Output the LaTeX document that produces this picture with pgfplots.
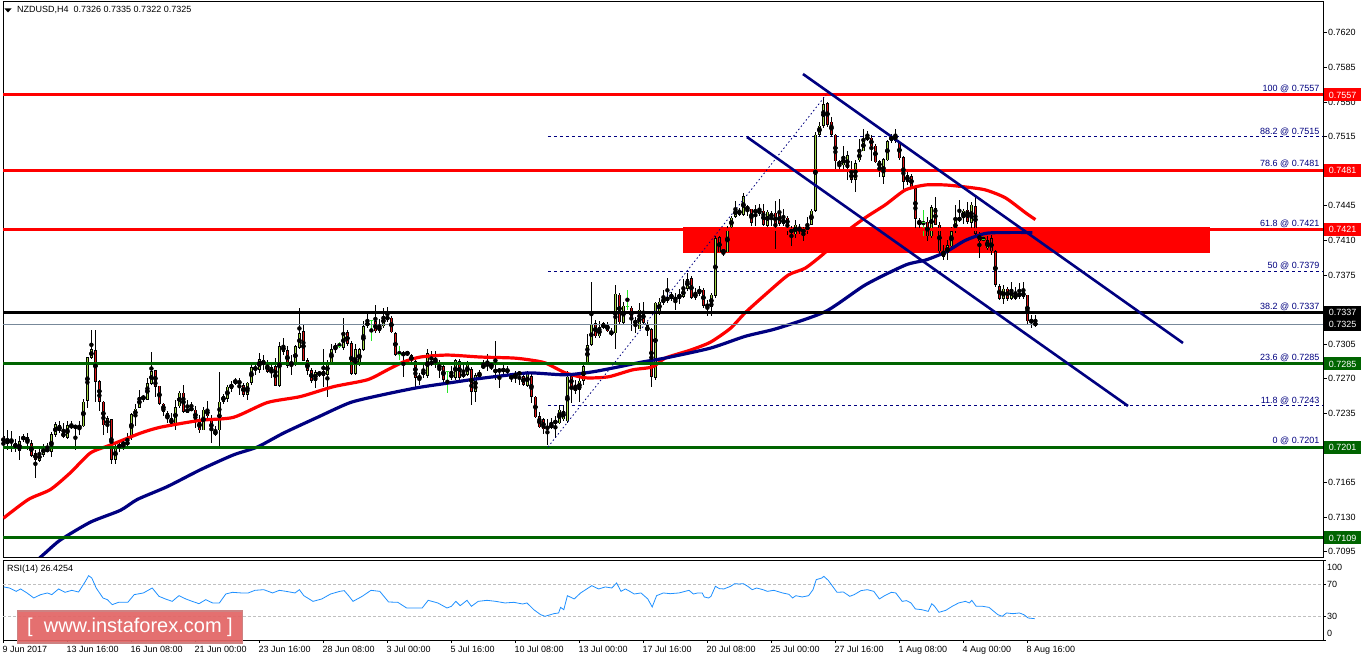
\documentclass[border=0pt]{standalone}
\usepackage{fontspec}
\setmainfont{Liberation Sans}
\usepackage{pgfplots}
\usepackage{pgfplotstable}
\pgfplotsset{compat=1.18}

\definecolor{mtnavy}{RGB}{0,0,128}
\definecolor{mtgreen}{RGB}{0,100,0}
\definecolor{bull}{RGB}{160,215,70}
\definecolor{bear}{RGB}{220,20,20}
\definecolor{doji}{RGB}{40,230,40}
\definecolor{rsiblue}{RGB}{30,144,255}
\definecolor{bidgray}{RGB}{119,136,153}
\definecolor{wmfill}{RGB}{226,100,100}
\definecolor{wmdraw}{RGB}{205,130,130}

% NZDUSD H4 candles: bar, open, high, low, close
\pgfplotstableread{
i o h l c
0 0.7212 0.7218 0.7191 0.7205
1 0.7204 0.7218 0.7198 0.7208
2 0.7207 0.7217 0.7196 0.7208
3 0.7205 0.7209 0.7196 0.7200
4 0.7197 0.7212 0.7188 0.7207
5 0.7208 0.7214 0.7206 0.7212
6 0.7211 0.7215 0.7198 0.7205
7 0.7205 0.7208 0.7191 0.7192
8 0.7195 0.7198 0.7170 0.7188
9 0.7187 0.7202 0.7186 0.7195
10 0.7193 0.7204 0.7191 0.7201
11 0.7200 0.7205 0.7196 0.7196
12 0.7196 0.7216 0.7191 0.7214
13 0.7213 0.7226 0.7211 0.7224
14 0.7223 0.7227 0.7215 0.7217
15 0.7216 0.7225 0.7210 0.7211
16 0.7210 0.7227 0.7209 0.7223
17 0.7224 0.7227 0.7219 0.7220
18 0.7222 0.7223 0.7198 0.7221
19 0.7220 0.7227 0.7213 0.7223
20 0.7222 0.7250 0.7221 0.7247
21 0.7248 0.7292 0.7241 0.7292
22 0.7291 0.7319 0.7290 0.7300
23 0.7299 0.7319 0.7247 0.7267
24 0.7268 0.7269 0.7237 0.7247
25 0.7247 0.7248 0.7213 0.7223
26 0.7223 0.7232 0.7215 0.7230
27 0.7229 0.7229 0.7184 0.7188
28 0.7188 0.7206 0.7184 0.7200
29 0.7200 0.7208 0.7196 0.7204
30 0.7204 0.7207 0.7198 0.7205
31 0.7203 0.7215 0.7201 0.7207
32 0.7212 0.7235 0.7208 0.7234
33 0.7232 0.7244 0.7222 0.7240
34 0.7241 0.7259 0.7240 0.7252
35 0.7253 0.7254 0.7247 0.7249
36 0.7249 0.7271 0.7249 0.7266
37 0.7265 0.7297 0.7264 0.7278
38 0.7279 0.7279 0.7252 0.7262
39 0.7263 0.7263 0.7244 0.7245
40 0.7245 0.7246 0.7232 0.7237
41 0.7235 0.7237 0.7225 0.7230
42 0.7230 0.7235 0.7221 0.7224
43 0.7225 0.7249 0.7218 0.7241
44 0.7242 0.7258 0.7240 0.7256
45 0.7256 0.7264 0.7235 0.7237
46 0.7236 0.7249 0.7235 0.7240
47 0.7241 0.7247 0.7238 0.7238
48 0.7239 0.7242 0.7220 0.7228
49 0.7228 0.7233 0.7215 0.7218
50 0.7218 0.7241 0.7218 0.7239
51 0.7240 0.7248 0.7228 0.7232
52 0.7228 0.7233 0.7205 0.7218
53 0.7213 0.7222 0.7212 0.7218
54 0.7218 0.7277 0.7201 0.7247
55 0.7247 0.7255 0.7245 0.7253
56 0.7250 0.7264 0.7247 0.7262
57 0.7260 0.7268 0.7257 0.7265
58 0.7265 0.7271 0.7264 0.7269
59 0.7268 0.7271 0.7254 0.7265
60 0.7264 0.7266 0.7252 0.7254
61 0.7254 0.7267 0.7249 0.7266
62 0.7266 0.7287 0.7264 0.7282
63 0.7282 0.7287 0.7274 0.7279
64 0.7279 0.7296 0.7276 0.7290
65 0.7289 0.7294 0.7279 0.7284
66 0.7285 0.7289 0.7276 0.7277
67 0.7276 0.7284 0.7271 0.7282
68 0.7283 0.7291 0.7263 0.7263
69 0.7263 0.7307 0.7262 0.7303
70 0.7304 0.7311 0.7294 0.7297
71 0.7299 0.7303 0.7281 0.7283
72 0.7284 0.7294 0.7274 0.7287
73 0.7284 0.7304 0.7283 0.7303
74 0.7301 0.7342 0.7300 0.7316
75 0.7318 0.7325 0.7288 0.7288
76 0.7289 0.7291 0.7274 0.7278
77 0.7279 0.7281 0.7266 0.7268
78 0.7268 0.7279 0.7261 0.7277
79 0.7274 0.7278 0.7272 0.7277
80 0.7278 0.7300 0.7262 0.7273
81 0.7274 0.7289 0.7252 0.7287
82 0.7286 0.7305 0.7284 0.7300
83 0.7300 0.7306 0.7296 0.7304
84 0.7303 0.7307 0.7301 0.7303
85 0.7301 0.7332 0.7299 0.7316
86 0.7317 0.7319 0.7303 0.7305
87 0.7306 0.7308 0.7274 0.7275
88 0.7275 0.7305 0.7274 0.7300
89 0.7286 0.7301 0.7283 0.7300
90 0.7299 0.7328 0.7298 0.7323
91 0.7323 0.7336 0.7321 0.7328
92 0.7329 0.7330 0.7308 0.7329
93 0.7328 0.7345 0.7316 0.7318
94 0.7318 0.7330 0.7316 0.7324
95 0.7323 0.7342 0.7321 0.7334
96 0.7331 0.7343 0.7328 0.7332
97 0.7332 0.7334 0.7316 0.7317
98 0.7316 0.7317 0.7293 0.7294
99 0.7295 0.7303 0.7289 0.7295
100 0.7294 0.7298 0.7272 0.7296
101 0.7295 0.7298 0.7293 0.7297
102 0.7294 0.7295 0.7286 0.7288
103 0.7288 0.7289 0.7262 0.7271
104 0.7270 0.7276 0.7264 0.7273
105 0.7274 0.7286 0.7271 0.7278
106 0.7273 0.7300 0.7271 0.7296
107 0.7285 0.7298 0.7283 0.7287
108 0.7285 0.7298 0.7281 0.7291
109 0.7284 0.7289 0.7271 0.7281
110 0.7283 0.7284 0.7266 0.7269
111 0.7277 0.7278 0.7256 0.7277
112 0.7274 0.7283 0.7269 0.7272
113 0.7271 0.7290 0.7269 0.7289
114 0.7288 0.7290 0.7269 0.7271
115 0.7273 0.7284 0.7271 0.7275
116 0.7274 0.7288 0.7273 0.7285
117 0.7280 0.7282 0.7244 0.7257
118 0.7257 0.7276 0.7247 0.7274
119 0.7272 0.7279 0.7271 0.7276
120 0.7281 0.7289 0.7280 0.7284
121 0.7284 0.7295 0.7278 0.7285
122 0.7283 0.7285 0.7279 0.7284
123 0.7279 0.7308 0.7269 0.7277
124 0.7278 0.7281 0.7261 0.7279
125 0.7278 0.7284 0.7274 0.7280
126 0.7278 0.7283 0.7273 0.7279
127 0.7272 0.7276 0.7267 0.7271
128 0.7271 0.7278 0.7266 0.7276
129 0.7275 0.7278 0.7264 0.7276
130 0.7273 0.7274 0.7263 0.7264
131 0.7263 0.7278 0.7262 0.7276
132 0.7273 0.7276 0.7246 0.7252
133 0.7252 0.7253 0.7230 0.7231
134 0.7232 0.7237 0.7220 0.7221
135 0.7229 0.7230 0.7214 0.7219
136 0.7219 0.7229 0.7203 0.7222
137 0.7220 0.7230 0.7219 0.7225
138 0.7225 0.7232 0.7210 0.7228
139 0.7225 0.7244 0.7224 0.7239
140 0.7229 0.7244 0.7227 0.7238
141 0.7227 0.7278 0.7225 0.7272
142 0.7273 0.7276 0.7246 0.7262
143 0.7262 0.7269 0.7255 0.7258
144 0.7259 0.7276 0.7247 0.7268
145 0.7268 0.7286 0.7264 0.7283
146 0.7286 0.7315 0.7284 0.7304
147 0.7304 0.7368 0.7303 0.7325
148 0.7326 0.7330 0.7311 0.7313
149 0.7313 0.7328 0.7311 0.7322
150 0.7321 0.7328 0.7320 0.7326
151 0.7325 0.7328 0.7317 0.7318
152 0.7318 0.7321 0.7313 0.7315
153 0.7316 0.7365 0.7300 0.7356
154 0.7355 0.7357 0.7325 0.7327
155 0.7327 0.7348 0.7325 0.7344
156 0.7343 0.7360 0.7340 0.7343
157 0.7342 0.7344 0.7318 0.7330
158 0.7330 0.7333 0.7316 0.7325
159 0.7320 0.7347 0.7320 0.7340
160 0.7339 0.7348 0.7326 0.7327
161 0.7324 0.7328 0.7313 0.7318
162 0.7320 0.7321 0.7262 0.7272
163 0.7271 0.7348 0.7269 0.7347
164 0.7338 0.7352 0.7335 0.7348
165 0.7347 0.7360 0.7345 0.7351
166 0.7349 0.7372 0.7347 0.7353
167 0.7351 0.7358 0.7349 0.7356
168 0.7353 0.7357 0.7340 0.7349
169 0.7351 0.7361 0.7346 0.7356
170 0.7353 0.7371 0.7352 0.7361
171 0.7361 0.7377 0.7359 0.7371
172 0.7372 0.7374 0.7351 0.7352
173 0.7352 0.7362 0.7350 0.7357
174 0.7356 0.7364 0.7354 0.7361
175 0.7360 0.7362 0.7342 0.7344
176 0.7346 0.7350 0.7334 0.7342
177 0.7343 0.7357 0.7333 0.7355
178 0.7354 0.7414 0.7352 0.7412
179 0.7413 0.7414 0.7398 0.7398
180 0.7398 0.7401 0.7394 0.7400
181 0.7398 0.7425 0.7398 0.7423
182 0.7423 0.7435 0.7420 0.7433
183 0.7434 0.7450 0.7433 0.7442
184 0.7441 0.7443 0.7435 0.7436
185 0.7436 0.7458 0.7435 0.7455
186 0.7443 0.7446 0.7435 0.7442
187 0.7442 0.7442 0.7425 0.7428
188 0.7441 0.7446 0.7425 0.7438
189 0.7441 0.7447 0.7435 0.7437
190 0.7440 0.7447 0.7425 0.7426
191 0.7425 0.7441 0.7423 0.7439
192 0.7438 0.7440 0.7425 0.7432
193 0.7438 0.7450 0.7401 0.7425
194 0.7437 0.7452 0.7425 0.7427
195 0.7427 0.7442 0.7425 0.7432
196 0.7433 0.7435 0.7415 0.7425
197 0.7421 0.7425 0.7404 0.7418
198 0.7416 0.7431 0.7412 0.7426
199 0.7423 0.7427 0.7417 0.7419
200 0.7420 0.7424 0.7409 0.7419
201 0.7419 0.7434 0.7417 0.7426
202 0.7426 0.7442 0.7426 0.7440
203 0.7440 0.7520 0.7439 0.7517
204 0.7517 0.7530 0.7515 0.7526
205 0.7526 0.7555 0.7524 0.7548
206 0.7549 0.7550 0.7525 0.7527
207 0.7530 0.7535 0.7515 0.7517
208 0.7517 0.7518 0.7481 0.7490
209 0.7490 0.7491 0.7481 0.7486
210 0.7486 0.7506 0.7481 0.7495
211 0.7483 0.7500 0.7471 0.7496
212 0.7479 0.7490 0.7468 0.7471
213 0.7471 0.7491 0.7459 0.7488
214 0.7491 0.7512 0.7489 0.7500
215 0.7500 0.7523 0.7500 0.7512
216 0.7514 0.7521 0.7511 0.7513
217 0.7514 0.7517 0.7490 0.7505
218 0.7506 0.7508 0.7488 0.7489
219 0.7490 0.7491 0.7474 0.7484
220 0.7474 0.7493 0.7467 0.7492
221 0.7491 0.7511 0.7490 0.7510
222 0.7510 0.7518 0.7508 0.7516
223 0.7517 0.7523 0.7509 0.7511
224 0.7510 0.7511 0.7491 0.7493
225 0.7494 0.7495 0.7461 0.7469
226 0.7469 0.7481 0.7466 0.7476
227 0.7475 0.7477 0.7463 0.7464
228 0.7463 0.7464 0.7421 0.7432
229 0.7431 0.7433 0.7422 0.7426
230 0.7428 0.7441 0.7414 0.7428
231 0.7429 0.7434 0.7409 0.7414
232 0.7414 0.7446 0.7412 0.7444
233 0.7443 0.7454 0.7426 0.7426
234 0.7426 0.7429 0.7397 0.7399
235 0.7393 0.7405 0.7390 0.7399
236 0.7397 0.7410 0.7390 0.7405
237 0.7404 0.7424 0.7402 0.7419
238 0.7419 0.7446 0.7417 0.7431
239 0.7431 0.7451 0.7429 0.7432
240 0.7433 0.7442 0.7427 0.7440
241 0.7441 0.7449 0.7427 0.7429
242 0.7428 0.7449 0.7419 0.7446
243 0.7445 0.7454 0.7414 0.7417
244 0.7417 0.7419 0.7392 0.7409
245 0.7411 0.7414 0.7409 0.7411
246 0.7402 0.7414 0.7400 0.7410
247 0.7412 0.7415 0.7395 0.7399
248 0.7399 0.7400 0.7363 0.7365
249 0.7364 0.7366 0.7350 0.7351
250 0.7351 0.7365 0.7346 0.7361
251 0.7361 0.7363 0.7349 0.7351
252 0.7351 0.7368 0.7350 0.7361
253 0.7351 0.7363 0.7350 0.7356
254 0.7354 0.7367 0.7351 0.7356
255 0.7353 0.7368 0.7351 0.7358
256 0.7355 0.7355 0.7324 0.7328
257 0.7330 0.7335 0.7321 0.7327
258 0.7326 0.7335 0.7322 0.7325
}\candles

\begin{document}
\begin{tikzpicture}[x=1pt,y=1pt,font=\fontsize{9}{10}\selectfont]
\path[use as bounding box, fill=white] (0,0) rectangle (1362,661);

\begin{axis}[
    name=main,
    at={(3pt,104pt)}, anchor=south west,
    scale only axis, width=1320pt, height=556pt,
    xmin=-0.1, xmax=329.9,
    ymin=0.708977, ymax=0.765207,
    xtick=\empty,
    ytick={0.7095,0.7130,0.7165,0.7200,0.7235,0.7270,0.7305,0.7340,0.7375,0.7410,0.7445,0.7480,0.7515,0.7550,0.7585,0.7620},
    yticklabels={0.7095,0.7130,0.7165,,0.7235,0.7270,0.7305,,0.7375,0.7410,0.7445,,0.7515,0.7550,0.7585,0.7620},
    ytick pos=right, yticklabel pos=right,
    tick align=outside, major tick length=4pt,
    yticklabel style={anchor=west, inner sep=0pt, xshift=1pt},
    tick label style={font=\fontsize{9}{10}\selectfont},
    every tick/.style={black, line width=0.8pt},
    axis line style={black, line width=0.8pt},
    /pgf/number format/assume math mode=true,
]
% support / resistance zone
\fill[red] (axis cs:169.9,0.7397) rectangle (axis cs:301.65,0.7423);

% fibonacci dashed levels
\addplot[mtnavy, line width=0.8pt, dash pattern=on 3pt off 3pt] coordinates {(136.15,0.7515) (329.9,0.7515)};
\addplot[mtnavy, line width=0.8pt, dash pattern=on 3pt off 3pt] coordinates {(136.15,0.7379) (329.9,0.7379)};
\addplot[mtnavy, line width=0.8pt, dash pattern=on 3pt off 3pt] coordinates {(136.15,0.7243) (329.9,0.7243)};

% wicks
\addplot[only marks, mark=none,
    restrict expr to domain={abs(\thisrow{c}-\thisrow{o})}{0.000001:1},
    error bars/.cd, y dir=both, y explicit, error mark=none,
    error bar style={draw=black, line width=1pt, solid}]
    table[x=i, y expr={(\thisrow{h}+\thisrow{l})/2}, y error expr={(\thisrow{h}-\thisrow{l})/2}] {\candles};
% bull bodies
\addplot[only marks, mark=none,
    restrict expr to domain={\thisrow{c}-\thisrow{o}}{0.000001:1},
    error bars/.cd, y dir=both, y explicit, error mark=none,
    error bar style={draw=black, line width=3pt, line cap=butt, solid}]
    table[x=i, y expr={(\thisrow{o}+\thisrow{c})/2}, y error expr={max((\thisrow{c}-\thisrow{o})/2,0.00008)}] {\candles};
\addplot[only marks, mark=none,
    restrict expr to domain={\thisrow{c}-\thisrow{o}}{0.000001:1},
    error bars/.cd, y dir=both, y explicit, error mark=none,
    error bar style={draw=bull, line width=1.5pt, line cap=butt, solid}]
    table[x=i, y expr={(\thisrow{o}+\thisrow{c})/2}, y error expr={max((\thisrow{c}-\thisrow{o})/2-0.00007,0.00001)}] {\candles};
% bear bodies
\addplot[only marks, mark=none,
    restrict expr to domain={\thisrow{o}-\thisrow{c}}{0.000001:1},
    error bars/.cd, y dir=both, y explicit, error mark=none,
    error bar style={draw=black, line width=3pt, line cap=butt, solid}]
    table[x=i, y expr={(\thisrow{o}+\thisrow{c})/2}, y error expr={max((\thisrow{o}-\thisrow{c})/2,0.00008)}] {\candles};
\addplot[only marks, mark=none,
    restrict expr to domain={\thisrow{o}-\thisrow{c}}{0.000001:1},
    error bars/.cd, y dir=both, y explicit, error mark=none,
    error bar style={draw=bear, line width=1.5pt, line cap=butt, solid}]
    table[x=i, y expr={(\thisrow{o}+\thisrow{c})/2}, y error expr={max((\thisrow{o}-\thisrow{c})/2-0.00007,0.00001)}] {\candles};
% doji crosses
\addplot[only marks, mark=none,
    restrict expr to domain={abs(\thisrow{c}-\thisrow{o})}{-1:0.000001},
    error bars/.cd, y dir=both, y explicit, error mark=none,
    error bar style={draw=doji, line width=1pt, solid}]
    table[x=i, y expr={(\thisrow{h}+\thisrow{l})/2}, y error expr={(\thisrow{h}-\thisrow{l})/2}] {\candles};
\addplot[only marks, mark=-, mark size=1.6pt, doji, line width=1pt,
    restrict expr to domain={abs(\thisrow{c}-\thisrow{o})}{-1:0.000001}]
    table[x=i, y=o] {\candles};

% moving averages
\addplot[red, line width=3.2pt, smooth, tension=0.4] coordinates {
(0,0.7129)(6.25,0.7148)(11.75,0.7158)(16.75,0.7175)(21.75,0.7195)(26.75,0.7203)(34.25,0.7215)(39.25,0.7221)(49.25,0.7228)(57.5,0.7231)(66,0.7246)(74.25,0.7252)(82.5,0.7262)(91,0.7269)(96,0.7279)(100,0.7287)(104.25,0.7292)(111,0.7294)(119.25,0.7292)(127.5,0.7291)(131.75,0.7289)(135.5,0.7286)(140.5,0.7276)(145.5,0.7271)(151.25,0.7272)(157.25,0.7279)(162.25,0.7282)(165.5,0.7291)(171.75,0.7299)(176.75,0.7307)(181.75,0.7321)(185.5,0.7337)(191,0.7357)(196.25,0.7375)(200.5,0.7382)(205.5,0.7398)(210.5,0.7418)(215.5,0.7433)(220.5,0.7446)(225.5,0.7461)(230.5,0.7466)(235.5,0.7466)(240.5,0.7464)(245.5,0.7461)(250.5,0.7453)(255.5,0.7438)(258,0.7431)};
\addplot[mtnavy, line width=3.2pt, smooth, tension=0.4] coordinates {
(8,0.7085)(10.5,0.7094)(14.25,0.7107)(21.75,0.7125)(29.25,0.7137)(33.5,0.7148)(41,0.7161)(49.25,0.7178)(57.5,0.7193)(63.5,0.7201)(70,0.7215)(78.5,0.7231)(86.75,0.7246)(95,0.7254)(103.5,0.7261)(111.75,0.7266)(118.5,0.7270)(126.75,0.7274)(131.75,0.7276)(140.5,0.7274)(147.25,0.7277)(153.75,0.7282)(159.75,0.7287)(165.5,0.7291)(176.75,0.7301)(185.5,0.7313)(193.5,0.7321)(205.5,0.7338)(215.5,0.7365)(225.5,0.7385)(230.5,0.7390)(235.5,0.7398)(240.5,0.7410)(245.5,0.7417)(250.5,0.7418)(257.25,0.7418)};

% horizontal levels
\addplot[red, line width=3pt] coordinates {(-0.1,0.7557) (329.9,0.7557)};
\addplot[red, line width=3pt] coordinates {(-0.1,0.7481) (329.9,0.7481)};
\addplot[red, line width=3pt] coordinates {(-0.1,0.7421) (329.9,0.7421)};
\addplot[black, line width=3pt] coordinates {(-0.1,0.7337) (329.9,0.7337)};
\addplot[bidgray, line width=0.8pt] coordinates {(-0.1,0.7325) (329.9,0.7325)};
\addplot[mtgreen, line width=3pt] coordinates {(-0.1,0.7285) (329.9,0.7285)};
\addplot[mtgreen, line width=3pt] coordinates {(-0.1,0.7201) (329.9,0.7201)};
\addplot[mtgreen, line width=3pt] coordinates {(-0.1,0.7109) (329.9,0.7109)};

% channel
\addplot[mtnavy, line width=2.6pt] coordinates {(199.9,0.75782) (294.9,0.73062)};
\addplot[mtnavy, line width=2.6pt] coordinates {(185.9,0.75145) (281.15,0.72425)};
% fibonacci base line
\addplot[mtnavy, line width=0.8pt, dash pattern=on 1.5pt off 2.5pt] coordinates {(136.15,0.7201) (205.65,0.7557)};

% fibonacci labels
\begin{scope}[every node/.style={anchor=south east, text=mtnavy, inner sep=0.6pt, font=\fontsize{9}{10}\selectfont}]
\node at (axis cs:329.2,0.7557) [yshift=1.3pt] {100 @ 0.7557};
\node at (axis cs:329.2,0.7515) {88.2 @ 0.7515};
\node at (axis cs:329.2,0.7481) [yshift=1.3pt] {78.6 @ 0.7481};
\node at (axis cs:329.2,0.7421) [yshift=1.3pt] {61.8 @ 0.7421};
\node at (axis cs:329.2,0.7379) {50 @ 0.7379};
\node at (axis cs:329.2,0.7337) [yshift=1.3pt] {38.2 @ 0.7337};
\node at (axis cs:329.2,0.7285) [yshift=1.3pt] {23.6 @ 0.7285};
\node at (axis cs:329.2,0.7243) {11.8 @ 0.7243};
\node at (axis cs:329.2,0.7201) [yshift=1.3pt] {0 @ 0.7201};
\end{scope}

\coordinate (L7557) at (axis cs:329.9,0.7557);
\coordinate (L7481) at (axis cs:329.9,0.7481);
\coordinate (L7421) at (axis cs:329.9,0.7421);
\coordinate (L7337) at (axis cs:329.9,0.7337);
\coordinate (L7325) at (axis cs:329.9,0.7325);
\coordinate (L7285) at (axis cs:329.9,0.7285);
\coordinate (L7201) at (axis cs:329.9,0.7201);
\coordinate (L7109) at (axis cs:329.9,0.7109);
\end{axis}

% price boxes on the right scale
\begin{scope}[every node/.style={anchor=west, text=white, minimum width=37pt, minimum height=13pt, inner sep=0.5pt, font=\fontsize{9}{10}\selectfont}]
\node[fill=red] at ([xshift=1pt]L7557) {0.7557};
\node[fill=red] at ([xshift=1pt]L7481) {0.7481};
\node[fill=red] at ([xshift=1pt]L7421) {0.7421};
\node[fill=black] at ([xshift=1pt]L7337) {0.7337};
\node[fill=black] at ([xshift=1pt]L7325) {0.7325};
\node[fill=mtgreen] at ([xshift=1pt]L7285) {0.7285};
\node[fill=mtgreen] at ([xshift=1pt]L7201) {0.7201};
\node[fill=mtgreen] at ([xshift=1pt]L7109) {0.7109};
\end{scope}

\begin{axis}[
    name=rsi,
    at={(3pt,21pt)}, anchor=south west,
    scale only axis, width=1320pt, height=80pt,
    xmin=-0.1, xmax=329.9, ymin=0, ymax=100,
    xtick={0,16,...,256},
    xticklabels={9 Jun 2017,13 Jun 16:00,16 Jun 08:00,21 Jun 00:00,23 Jun 16:00,28 Jun 08:00,3 Jul 00:00,5 Jul 16:00,10 Jul 08:00,13 Jul 00:00,17 Jul 16:00,20 Jul 08:00,25 Jul 00:00,27 Jul 16:00,1 Aug 08:00,4 Aug 00:00,8 Aug 16:00},
    ytick={0,30,70,100}, yticklabels={,,,},
    xtick pos=bottom, ytick pos=right,
    tick align=outside, major tick length=3pt,
    xticklabel style={anchor=north west, inner sep=0pt, xshift=-1pt, yshift=-3pt},
    tick label style={font=\fontsize{9}{10}\selectfont},
    every tick/.style={black, line width=0.8pt},
    axis line style={black, line width=0.8pt},
]
\addplot[black!25, line width=0.8pt, dash pattern=on 3pt off 2pt] coordinates {(-0.1,70) (329.9,70)};
\addplot[black!25, line width=0.8pt, dash pattern=on 3pt off 2pt] coordinates {(-0.1,30) (329.9,30)};
\addplot[rsiblue, line width=0.8pt] coordinates {
(0.1,66.3)(1.5,65.0)(3.2,60.8)(4.3,63.8)(5.9,58.8)(7.6,52.5)(9.3,56.7)(11.0,58.8)(12.1,56.7)(13.8,63.8)(15.4,59.6)(17.1,62.1)(18.8,60.0)(20.5,73.3)(21.3,80.4)(22.1,77.5)(23.2,65.0)(24.9,52.5)(26.0,50.4)(27.2,44.2)(28.8,47.1)(31.1,47.1)(32.7,56.7)(35.0,58.8)(37.2,65.0)(38.9,54.6)(40.5,51.3)(42.2,48.3)(43.9,55.4)(45.6,51.3)(47.2,48.3)(48.9,45.4)(50.6,50.4)(52.3,46.3)(54.0,46.3)(55.6,57.5)(57.3,59.6)(59.5,58.8)(61.2,58.8)(62.9,62.1)(65.1,62.9)(67.3,58.8)(69.0,62.1)(70.7,60.8)(72.9,58.8)(74.0,62.9)(75.1,55.4)(77.4,48.3)(79.6,51.3)(81.8,57.5)(84.1,60.8)(85.2,61.7)(86.3,55.4)(87.4,48.3)(89.7,54.6)(91.9,62.1)(94.1,60.8)(96.3,47.5)(98.6,47.1)(100.8,40.0)(103.0,40.0)(104.7,40.0)(106.2,49.6)(108.6,46.3)(110.9,40.0)(112.0,42.1)(113.1,48.3)(114.2,42.9)(115.9,49.6)(117.0,42.1)(118.7,48.3)(120.9,49.6)(123.1,48.3)(125.4,46.3)(127.6,47.1)(129.8,45.0)(130.9,46.3)(132.6,37.9)(134.3,31.7)(135.4,29.6)(137.6,32.9)(138.8,33.8)(139.3,40.8)(140.1,37.9)(141.0,55.4)(142.7,51.3)(144.3,58.8)(147.1,67.9)(148.8,63.8)(150.5,66.3)(152.1,65.0)(153.3,71.3)(154.4,60.8)(155.5,63.8)(156.6,60.8)(157.7,57.5)(159.4,58.8)(161.1,51.3)(162.2,41.3)(163.3,55.4)(165.0,58.8)(166.7,57.9)(168.9,58.8)(171.4,62.1)(172.5,57.5)(173.6,58.8)(174.7,58.8)(175.2,53.8)(176.3,52.5)(176.9,54.6)(178.0,67.1)(179.0,64.2)(180.1,63.8)(181.8,67.1)(182.8,70.4)(183.9,70.0)(185.0,70.4)(186.1,67.1)(187.2,62.9)(188.3,65.0)(189.9,62.9)(191.0,60.8)(192.6,62.1)(194.8,58.8)(196.4,57.1)(197.3,52.5)(198.1,55.4)(199.7,53.8)(201.3,55.4)(202.4,62.9)(203.2,75.4)(204.6,77.5)(205.1,79.6)(206.2,74.6)(207.3,67.1)(208.4,59.6)(210.0,60.0)(211.6,54.6)(212.7,56.7)(214.4,61.7)(216.0,62.9)(217.6,60.8)(219.0,51.3)(220.3,55.4)(222.0,59.6)(223.1,58.8)(224.7,48.3)(225.8,49.2)(226.9,46.3)(228.0,38.8)(229.6,37.9)(231.2,35.8)(232.1,45.4)(232.8,42.1)(233.9,34.6)(235.6,37.1)(237.2,42.1)(238.8,46.3)(240.5,48.3)(241.5,46.3)(242.1,49.6)(243.2,42.1)(244.8,42.1)(246.4,40.8)(248.6,31.7)(249.7,29.6)(250.8,33.8)(252.4,32.9)(254.0,33.8)(255.1,31.7)(256.2,27.5)(257.8,26.7)};
\end{axis}

% RSI scale labels
\begin{scope}[every node/.style={anchor=west, inner sep=0pt, font=\fontsize{9}{10}\selectfont}]
\node at (1327,94) {100};
\node at (1327,77) {70};
\node at (1327,45) {30};
\node at (1327,28) {0};
\end{scope}

% header texts
\fill[black] (4.5,652.5) -- (11.5,652.5) -- (8,648.5) -- cycle;
\node[anchor=west, inner sep=0pt] at (17,651) {NZDUSD,H4\ \ 0.7326 0.7335 0.7322 0.7325};
\node[anchor=west, inner sep=0pt] at (7,92) {RSI(14) 26.4254};

% watermark
\node[fill=wmfill, draw=wmdraw, line width=1.5pt, fill opacity=0.92, text opacity=1, text=white,
      minimum width=225pt, minimum height=32pt, inner sep=0pt,
      font=\fontsize{20}{21}\selectfont] at (130,34) {[\ \ www.instaforex.com\ ]};
\end{tikzpicture}
\end{document}
